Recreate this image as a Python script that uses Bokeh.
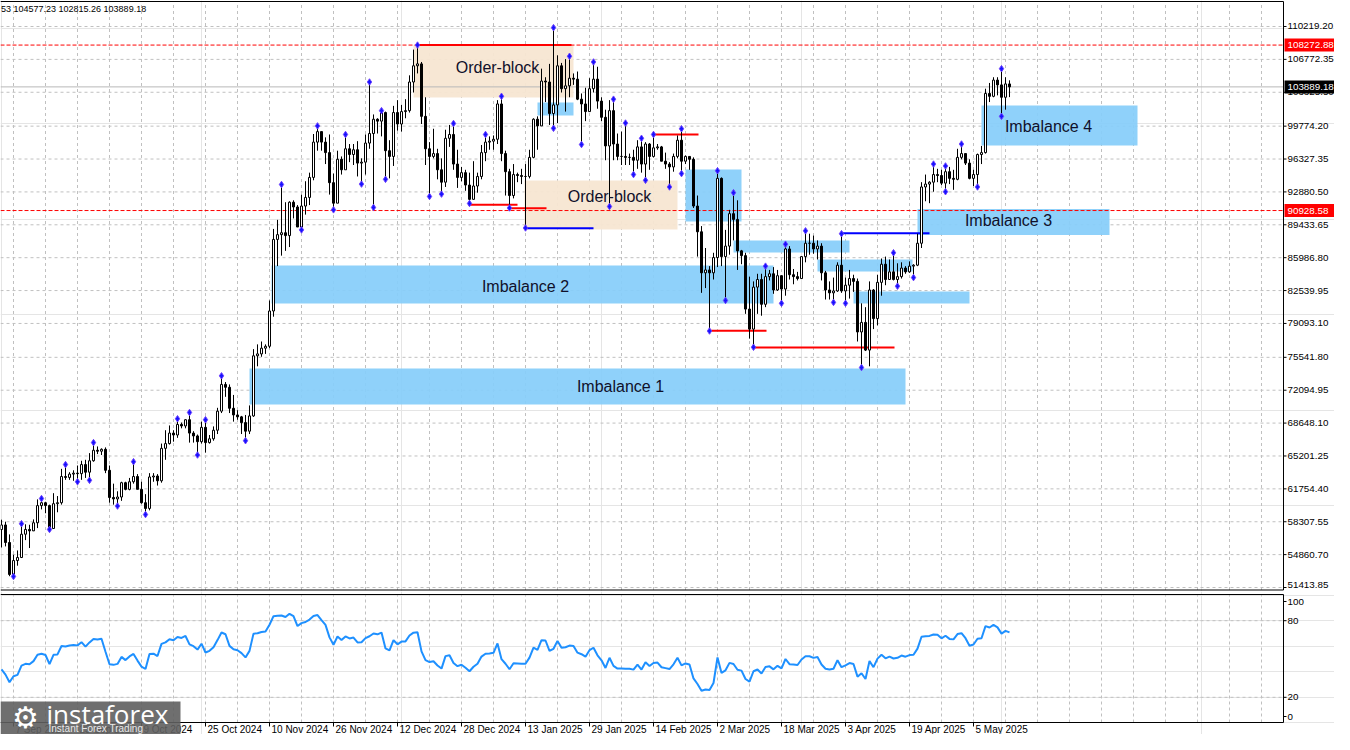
import datetime as dt
import numpy as np
from bokeh.plotting import figure
from bokeh.layouts import column
from bokeh.models import Range1d
from bokeh.core.properties import value
from bokeh.embed import file_html
from bokeh.resources import INLINE

# ---------------- data (prices in thousand USD) ----------------
start_date = dt.date(2024, 9, 4)
first_open = 57.49
# closes 1 Aug .. 3 Sep 2024 (only used to warm up the RSI)
warmup_close = [65.36, 61.42, 60.68, 58.12, 53.99, 56.04, 55.03, 61.71, 60.88, 60.94,
                58.71, 59.35, 60.61, 58.74, 57.56, 58.88, 59.48, 58.48, 59.49, 59.01,
                61.16, 60.38, 64.09, 64.18, 64.22, 62.83, 59.42, 59.03, 59.39, 59.12,
                58.97, 57.33, 59.13, 57.49]

close_k = [
    # Sep 4..30
    57.97, 56.13, 52.78, 54.24, 54.56, 57.00, 57.50, 57.35, 58.20, 60.00, 60.30, 60.00, 57.60, 60.20,
    60.30, 63.05, 62.95, 63.30, 63.40, 63.35, 64.30, 63.50, 64.70, 65.80, 65.70, 65.90, 63.70,
    # Oct
    60.85, 60.70, 60.90, 62.40, 61.70, 62.50, 63.05, 61.70, 60.30, 59.70, 63.00, 63.10, 62.60, 66.00,
    66.50, 67.60, 67.40, 68.50, 68.35, 69.00, 67.60, 67.30, 66.70, 68.20, 66.60, 67.00, 67.90, 69.90,
    72.70, 72.40, 70.20,
    # Nov
    69.50, 69.30, 68.70, 67.80, 69.40, 75.70, 75.90, 76.50, 76.70, 80.40, 87.90, 88.40, 88.60, 88.30,
    91.80, 91.30, 89.20, 91.40, 92.30, 94.40, 98.10, 99.20, 98.10, 97.00, 93.85, 91.70, 96.30, 95.20,
    97.40, 96.80,
    # Dec
    97.30, 95.90, 96.00, 98.00, 99.00, 100.50, 100.30, 101.20, 97.20, 96.60, 101.20, 100.00, 101.30,
    101.40, 104.40, 106.10, 106.30, 100.80, 97.40, 96.60, 96.90, 95.20, 93.90, 98.50, 98.90, 95.80,
    94.40, 94.90, 93.60, 92.10, 93.50,
    # Jan
    94.50, 97.00, 98.10, 98.20, 98.40, 102.10, 96.90, 95.00, 92.50, 94.70, 94.60, 94.50, 94.50, 96.50,
    100.50, 99.80, 104.50, 104.40, 101.10, 102.00, 106.10, 103.70, 104.00, 104.80, 104.70, 102.60,
    102.10, 101.30, 103.70, 104.70, 102.40,
    # Feb
    100.70, 97.70, 101.40, 97.90, 96.60, 96.60, 96.50, 96.50, 96.20, 97.60, 95.80, 97.90, 96.60, 97.50,
    97.60, 96.10, 95.80, 95.50, 96.60, 98.30, 96.10, 96.60, 96.30, 91.40, 88.70, 84.40, 84.70, 84.40,
    # Mar
    86.00, 94.30, 86.10, 87.20, 90.60, 90.00, 86.70, 86.20, 80.60, 78.50, 82.90, 83.70, 81.10, 84.00,
    84.30, 82.60, 84.10, 82.70, 86.90, 84.20, 84.00, 83.80, 86.10, 87.50, 87.50, 86.90, 87.20, 84.40,
    82.60, 82.30, 82.50,
    # Apr
    85.20, 82.50, 83.10, 83.80, 83.50, 78.20, 79.20, 76.30, 82.60, 79.60, 83.40, 85.30, 83.70, 84.50,
    83.70, 84.00, 84.90, 84.50, 85.10, 85.20, 87.50, 93.40, 93.70, 93.90, 94.70, 94.60, 93.80, 95.00,
    94.30, 94.20,
    # May 1..14
    96.50, 96.90, 95.90, 94.30, 94.70, 96.80, 97.00, 103.20, 102.90, 104.60, 104.10, 102.80, 104.20,
    103.88918,
]

high_k = [
    # Sep
    58.52, 58.31, 56.98, 54.85, 55.30, 58.10, 58.04, 57.99, 58.55, 60.65, 60.74, 60.40, 60.10, 61.30,
    61.00, 63.85, 64.30, 63.50, 63.70, 64.20, 64.70, 64.80, 65.50, 66.60, 66.20, 66.00, 66.10,
    # Oct
    64.20, 62.30, 61.50, 62.50, 62.50, 62.90, 64.60, 63.30, 62.50, 61.20, 63.40, 63.40, 63.30, 66.50,
    67.90, 68.40, 67.90, 69.10, 68.70, 69.05, 69.76, 67.80, 67.45, 68.80, 69.00, 67.40, 68.30, 70.25,
    73.60, 72.95, 72.70,
    # Nov
    71.60, 70.00, 69.40, 69.50, 70.50, 76.40, 76.90, 77.20, 76.90, 81.50, 89.00, 89.95, 93.66, 91.80,
    91.90, 92.00, 91.50, 92.60, 94.00, 94.90, 98.95, 99.80, 99.20, 98.60, 98.90, 94.80, 97.20, 96.60,
    98.90, 97.90,
    # Dec
    97.90, 98.20, 96.40, 98.90, 104.40, 101.00, 100.60, 101.40, 101.30, 98.30, 101.90, 102.50, 102.00,
    102.60, 105.10, 107.80, 108.27288, 106.50, 102.80, 98.10, 99.50, 97.40, 96.40, 99.40, 99.90,
    100.05, 97.30, 95.50, 95.20, 94.90, 96.10,
    # Jan
    94.90, 97.80, 98.90, 98.70, 98.80, 102.50, 102.90, 97.20, 95.30, 95.80, 94.90, 95.30, 95.80, 97.30,
    100.60, 100.80, 105.80, 104.90, 106.30, 110.10, 107.20, 106.40, 106.80, 107.10, 105.30, 105.50,
    103.20, 103.80, 104.80, 106.50, 106.00,
    # Feb
    102.80, 101.50, 102.50, 102.60, 99.00, 99.20, 100.10, 96.90, 97.30, 98.30, 98.50, 98.10, 98.00,
    98.90, 97.90, 97.70, 97.00, 96.00, 96.90, 98.80, 99.50, 96.70, 96.60, 96.50, 92.50, 89.30, 87.00,
    85.10,
    # Mar
    86.50, 95.10, 94.40, 88.90, 91.00, 92.80, 92.00, 86.80, 86.50, 84.00, 83.50, 84.30, 84.30, 85.10,
    84.70, 85.00, 84.70, 84.10, 87.40, 87.20, 84.80, 84.50, 86.10, 88.80, 88.50, 88.30, 87.80, 87.50,
    84.60, 83.50, 83.90,
    # Apr
    85.50, 88.50, 83.90, 84.70, 84.20, 83.80, 81.20, 80.80, 83.50, 82.70, 84.20, 85.90, 86.10, 85.80,
    86.50, 85.40, 85.50, 85.10, 85.60, 85.30, 88.50, 93.90, 94.70, 94.00, 95.80, 95.30, 95.20, 95.60,
    95.50, 95.20,
    # May
    97.40, 97.90, 96.90, 96.30, 95.20, 96.90, 97.70, 103.70, 104.30, 104.90, 104.90, 105.80, 104.90,
    104.57723,
]

low_k = [
    # Sep
    55.61, 55.72, 52.60, 52.57, 53.70, 54.50, 56.38, 55.55, 57.33, 57.64, 59.60, 59.20, 57.50, 57.60,
    59.30, 60.10, 62.70, 62.70, 62.60, 62.50, 62.70, 62.90, 62.65, 64.60, 65.40, 65.30, 63.40,
    # Oct
    60.30, 60.10, 59.95, 60.50, 61.60, 61.60, 62.30, 61.80, 60.20, 59.06, 59.50, 62.50, 62.10, 62.40,
    64.80, 66.40, 66.70, 67.10, 68.10, 68.10, 66.60, 66.60, 65.30, 66.50, 65.55, 66.50, 66.80, 67.50,
    69.70, 71.40, 69.70,
    # Nov
    68.80, 69.00, 67.50, 66.80, 67.50, 69.30, 74.60, 75.60, 75.90, 76.50, 79.80, 85.10, 86.20, 86.70,
    87.10, 90.10, 89.30, 88.90, 90.50, 91.50, 94.10, 97.20, 97.20, 95.80, 92.60, 91.00, 91.80, 94.70,
    95.40, 96.00,
    # Dec
    95.70, 94.50, 93.70, 94.70, 97.40, 91.25, 99.00, 98.70, 94.20, 94.30, 95.60, 99.30, 99.20, 100.60,
    101.20, 103.30, 105.30, 100.00, 95.70, 92.40, 96.40, 94.20, 92.65, 93.40, 97.60, 95.20, 93.30,
    94.00, 93.00, 91.67, 92.10,
    # Jan
    92.80, 94.20, 96.10, 97.30, 97.30, 97.90, 96.10, 92.50, 91.20, 92.20, 93.90, 93.70, 89.10, 94.30,
    96.40, 97.30, 99.80, 102.30, 99.90, 99.55, 100.10, 103.30, 101.30, 102.80, 104.10, 102.50, 97.85,
    100.30, 101.30, 103.30, 101.60,
    # Feb
    100.30, 96.20, 91.35, 96.20, 96.20, 95.70, 95.70, 95.70, 94.70, 95.30, 94.90, 94.10, 95.20, 96.50,
    97.30, 96.10, 95.30, 93.40, 95.00, 96.40, 94.80, 95.80, 95.20, 91.20, 86.10, 82.30, 82.80, 78.30,
    # Mar
    83.70, 85.00, 85.10, 81.50, 86.30, 87.80, 84.70, 85.30, 80.10, 77.50, 76.60, 80.10, 79.90, 80.80,
    83.60, 82.20, 82.50, 81.20, 82.00, 83.70, 83.20, 83.60, 83.80, 85.50, 86.30, 86.40, 85.80, 83.60,
    81.60, 81.60, 81.30,
    # Apr
    82.40, 82.30, 81.20, 81.70, 82.40, 77.20, 74.47, 76.20, 74.60, 78.50, 78.90, 82.00, 83.10, 83.70,
    83.60, 83.00, 83.80, 84.30, 84.40, 83.90, 85.10, 87.00, 91.90, 91.70, 92.90, 93.90, 93.60, 92.90,
    93.70, 93.10,
    # May
    94.10, 96.30, 95.70, 94.20, 93.50, 93.40, 95.80, 96.90, 102.30, 102.80, 103.00, 100.80, 101.50,
    102.81526,
]

price_ticks = [110219.20, 106772.35, 103325.50, 99774.20, 96327.35, 92880.50, 89433.65, 85986.80,
               82539.95, 79093.10, 75541.80, 72094.95, 68648.10, 65201.25, 61754.40, 58307.55,
               54860.70, 51413.85]
rsi_levels = [20, 80]
header_text = "53 104577.23 102815.26 103889.18"

# marked levels
level_high = 108272.88
level_mid = 90928.58
last_price = 103889.18

# zones: (first bar, last bar, low price, high price)
blue_zones = [(62.0, 226.0, 70595, 74369),      # Imbalance 1
              (67.5, 193.0, 81183, 85166),      # Imbalance 2
              (229.0, 277.0, 88376, 91101),     # Imbalance 3
              (245.0, 284.0, 97744, 101937),    # Imbalance 4
              (171.0, 185.0, 89778, 95228),
              (183.0, 212.0, 86528, 87786),
              (204.0, 227.75, 84537, 85795),
              (213.0, 242.0, 81183, 82440),
              (134.0, 143.0, 100890, 102252)]
ob_zones = [(103.0, 143.0, 102775, 108272.88),
            (130.75, 169.0, 88940, 94076)]
red_segments = [(104.0, 142.5, 108272.88), (116.75, 129.0, 91528), (127.0, 136.25, 91171),
                (162.75, 174.25, 98897), (177.0, 191.25, 78320), (188.0, 223.25, 76571)]
blue_segments = [(130.75, 148.0, 89080), (209.75, 232.0, 88555)]
zone_texts = [("Order-block", 124.0, 105920), ("Order-block", 152.0, 92398),
              ("Imbalance 2", 131.0, 82965), ("Imbalance 1", 154.75, 72483),
              ("Imbalance 3", 251.75, 89883), ("Imbalance 4", 261.75, 99736)]

# ---------------- derived series ----------------
close = np.array(close_k) * 1000
high = np.array(high_k) * 1000
low = np.array(low_k) * 1000
opn = np.concatenate([[first_open * 1000], close[:-1]])
n = len(close)
idx = np.arange(n)

# RSI(14), Wilder smoothing
allc = np.array(warmup_close + close_k) * 1000
d = np.diff(allc)
g = np.clip(d, 0, None)
l = np.clip(-d, 0, None)
per = 14
ag, al = g[:per].mean(), l[:per].mean()
rsi_all = [np.nan] * (per + 1)
rsi_all[per] = 100 - 100 / (1 + ag / al)
for k in range(per, len(d)):
    ag = (ag * (per - 1) + g[k]) / per
    al = (al * (per - 1) + l[k]) / per
    rsi_all.append(100 - 100 / (1 + ag / al) if al > 0 else 100)
rsi = np.array(rsi_all[len(warmup_close):])

# Bill Williams fractals
up_fr = [i for i in range(2, n - 2) if high[i] > max(high[i - 2], high[i - 1], high[i + 1], high[i + 2])]
dn_fr = [i for i in range(2, n - 2) if low[i] < min(low[i - 2], low[i - 1], low[i + 1], low[i + 2])]

# ---------------- pixel helpers (layout only) ----------------
W = 1334
H_MAIN, H_RSI = 591, 143
PPX = 104.8223                       # price units per pixel


def pm(y):          # main panel pixel row -> price
    return 51413.85 + (587 - y) * PPX


def rv(y):          # page pixel row -> RSI value (RSI panel starts at row 591)
    return 80 - (y - 620.2) / 1.2767


def bx(x):          # pixel column -> bar index
    return (x - 1) / 4.0


XR = bx(1283)       # right border of the plotting area
GRID = "#c0c0c0"
FONT = "Liberation Sans"
TXT = dict(text_font=value(FONT), text_color="black")

x_range = Range1d(bx(0), bx(W))

# ================= main price panel =================
main = figure(width=W, height=H_MAIN, x_range=x_range, y_range=Range1d(pm(H_MAIN), pm(0)),
              output_backend="svg", toolbar_location=None, x_axis_location=None, y_axis_location=None,
              min_border=0)
main.outline_line_color = None
main.background_fill_color = "white"
main.border_fill_color = "white"

grid_i = [3 + 8 * k for k in range(40)]
# grid
main.segment(x0=grid_i, y0=pm(589.5), x1=grid_i, y1=pm(1), line_color=GRID, line_dash="3 3", line_width=1)
main.segment(x0=bx(0), y0=price_ticks, x1=XR, y1=price_ticks, line_color=GRID, line_dash="3 3", line_width=1)

# zones
for (a, b, lo, hi) in ob_zones:
    main.quad(left=a, right=b, bottom=lo, top=hi, fill_color="#F7E6D2", line_alpha=0, fill_alpha=0.95)
for (a, b, lo, hi) in blue_zones:
    main.quad(left=a, right=b, bottom=lo, top=hi, fill_color="#87CEFA", line_alpha=0, fill_alpha=0.93)

# horizontal levels
main.segment(x0=bx(0), y0=last_price, x1=XR, y1=last_price, line_color="#b8b8b8", line_width=1)
main.segment(x0=bx(0), y0=[level_high, level_mid], x1=XR, y1=[level_high, level_mid],
             line_color="red", line_dash="4 2", line_width=1)
for (a, b, p) in red_segments:
    main.segment(x0=a, y0=p, x1=b, y1=p, line_color="red", line_width=2)
for (a, b, p) in blue_segments:
    main.segment(x0=a, y0=p, x1=b, y1=p, line_color="blue", line_width=2)

# candles
up = close >= opn
main.segment(x0=idx, y0=low, x1=idx, y1=high, line_color="black", line_width=1)
main.vbar(x=idx[up], width=0.5, top=close[up], bottom=opn[up], fill_color="white",
          line_color="black", line_width=1)
main.vbar(x=idx[~up], width=0.5, top=opn[~up], bottom=close[~up], fill_color="black",
          line_color="black", line_width=1)

# fractals
main.scatter(x=up_fr, y=high[up_fr], marker="diamond", size=6.5, fill_color="#1414ff", line_color="#6a3cff")
main.scatter(x=dn_fr, y=low[dn_fr], marker="diamond", size=6.5, fill_color="#1414ff", line_color="#6a3cff")

# zone texts
main.text(x=[t[1] for t in zone_texts], y=[t[2] for t in zone_texts], text=[t[0] for t in zone_texts],
          text_font=value(FONT), text_font_size="16px", text_color="#10102a",
          text_align="center", text_baseline="middle")

# header
main.text(x=[bx(0.5)], y=[pm(8)], text=[header_text], text_font_size="9px", text_align="left",
          text_baseline="middle", **TXT)

# panel borders
main.segment(x0=bx(0), y0=[pm(1), pm(589.5)], x1=XR, y1=[pm(1), pm(589.5)], line_color="black", line_width=1)
main.segment(x0=XR, y0=pm(1), x1=XR, y1=pm(589.5), line_color="black", line_width=1)

# price scale
main.segment(x0=XR, y0=price_ticks, x1=bx(1286), y1=price_ticks, line_color="black", line_width=1)
lab_off = [0] * (len(price_ticks) - 1) + [-3]
main.text(x=bx(1287), y=price_ticks, text=[f"{t:.2f}" for t in price_ticks], y_offset=lab_off,
          text_font_size="9.8px", text_align="left", text_baseline="middle", **TXT)

box_lv = [level_high, level_mid, last_price]
box_col = ["red", "red", "black"]
main.quad(left=bx(1284), right=bx(W), bottom=[v - 6.5 * PPX for v in box_lv],
          top=[v + 6.5 * PPX for v in box_lv], fill_color=box_col, line_alpha=0)
main.text(x=bx(1287), y=box_lv, text=[f"{v:.2f}" for v in box_lv], text_font=value(FONT),
          text_color="white", text_font_size="9.8px", text_align="left", text_baseline="middle")

# ================= RSI panel (with date scale) =================
rp = figure(width=W, height=H_RSI, x_range=x_range, y_range=Range1d(rv(591 + H_RSI), rv(591)),
            output_backend="svg", toolbar_location=None, x_axis_location=None, y_axis_location=None,
            min_border=0)
rp.outline_line_color = None
rp.background_fill_color = "white"
rp.border_fill_color = "white"

top_v, bot_v = rv(594), rv(722)
rp.segment(x0=grid_i, y0=bot_v, x1=grid_i, y1=top_v, line_color=GRID, line_dash="3 3", line_width=1)
rp.segment(x0=bx(0), y0=rsi_levels, x1=XR, y1=rsi_levels, line_color=GRID, line_dash="3 3", line_width=1)

rp.line(x=idx, y=rsi, line_color="#1E90FF", line_width=2)

rp.segment(x0=bx(0), y0=[top_v, bot_v], x1=XR, y1=[top_v, bot_v], line_color="black", line_width=1)
rp.segment(x0=XR, y0=top_v, x1=XR, y1=bot_v, line_color="black", line_width=1)

rsi_lab_v = [rv(601), 80, 20, rv(716)]
rsi_lab_t = ["100", "80", "20", "0"]
rp.segment(x0=XR, y0=rsi_lab_v, x1=bx(1286), y1=rsi_lab_v, line_color="black", line_width=1)
rp.text(x=bx(1287), y=rsi_lab_v, text=rsi_lab_t, text_font_size="9.8px", text_align="left",
        text_baseline="middle", **TXT)

# date scale
date_i = [3 + 16 * k for k in range(16)]
date_t = []
for i in date_i:
    dd = start_date + dt.timedelta(days=i)
    date_t.append(f"{dd.day} {dd.strftime('%b')} {dd.year}")
rp.segment(x0=date_i, y0=bot_v, x1=date_i, y1=rv(726), line_color="black", line_width=1)
rp.text(x=[i + 0.5 for i in date_i], y=rv(728.5), text=date_t, text_font_size="10px",
        text_align="left", text_baseline="middle", **TXT)

# watermark logo
rp.quad(left=bx(0), right=bx(180), bottom=rv(591 + H_RSI), top=rv(701), fill_color="#5f5f5f",
        fill_alpha=0.9, line_alpha=0)
rp.text(x=[bx(25)], y=[rv(717)], text=["\u2699"], text_font=value("DejaVu Sans"), text_font_size="30px",
        text_color="white", text_align="center", text_baseline="middle")
rp.text(x=[bx(46)], y=[rv(713)], text=["instaforex"], text_font=value("Open Sans"), text_font_size="26px",
        text_color="white", text_align="left", text_baseline="middle")
rp.text(x=[bx(48)], y=[rv(728)], text=["Instant Forex Trading"], text_font=value(FONT),
        text_font_size="10px", text_color="#e8e8e8", text_align="left", text_baseline="middle")

layout = column(main, rp, spacing=0)
open("out.html", "w").write(file_html(layout, INLINE))
